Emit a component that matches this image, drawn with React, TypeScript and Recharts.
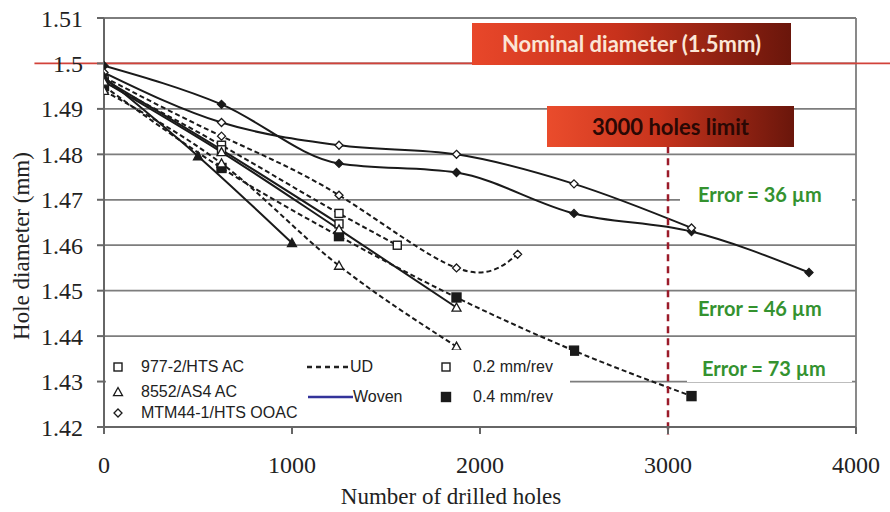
import React from "react";
import { LineChart, Line, XAxis, YAxis, CartesianGrid, ReferenceLine } from "recharts";

// tick values
const xTicks = [0, 1000, 2000, 3000, 4000];
const yTicks = [1.42, 1.43, 1.44, 1.45, 1.46, 1.47, 1.48, 1.49, 1.5, 1.51];

// hole counts where diameters were measured
const holesLong = [0, 625, 1250, 1875, 2500, 3125, 3750];
const holesWide = [0, 625, 1250, 1875, 2500, 3125];
const holesShortUD = [0, 625, 1250, 1875, 2200];
const holesSq = [0, 625, 1250, 1560];
const holesMid = [0, 625, 1250];
const holesTri = [0, 500, 1000];
const holesStd = [0, 625, 1250, 1875];

// hole diameters (mm)
const mtmWoven04 = [1.4995, 1.491, 1.478, 1.476, 1.467, 1.463, 1.454];
const mtmWoven02 = [1.498, 1.487, 1.482, 1.48, 1.4735, 1.4638];
const mtmUD02 = [1.497, 1.484, 1.471, 1.455, 1.458];
const hts977UD02 = [1.496, 1.482, 1.467, 1.46];
const hts977Woven02 = [1.4965, 1.481, 1.4647];
const hts977UD04 = [1.495, 1.477, 1.462, 1.4485, 1.4368, 1.4268];
const as4Woven04 = [1.497, 1.4796, 1.4605];
const as4Woven02 = [1.496, 1.4805, 1.4635, 1.4463];
const as4UD02 = [1.494, 1.478, 1.4555, 1.4377];

const zip = (xs: number[], ys: number[]) => xs.map((x, i) => ({ x, y: ys[i] }));

type Shape = "square" | "triangle" | "diamond";

const series = [
  { id: "mtmW04", data: zip(holesLong, mtmWoven04), shape: "diamond" as Shape, filled: true, dashed: false, curve: "monotone" },
  { id: "mtmW02", data: zip(holesWide, mtmWoven02), shape: "diamond" as Shape, filled: false, dashed: false, curve: "monotone" },
  { id: "mtmUD02", data: zip(holesShortUD, mtmUD02), shape: "diamond" as Shape, filled: false, dashed: true, curve: "natural" },
  { id: "977UD02", data: zip(holesSq, hts977UD02), shape: "square" as Shape, filled: false, dashed: true, curve: "monotone" },
  { id: "977W02", data: zip(holesMid, hts977Woven02), shape: "square" as Shape, filled: false, dashed: false, curve: "monotone" },
  { id: "977UD04", data: zip(holesWide, hts977UD04), shape: "square" as Shape, filled: true, dashed: true, curve: "monotone" },
  { id: "as4W04", data: zip(holesTri, as4Woven04), shape: "triangle" as Shape, filled: true, dashed: false, curve: "monotone" },
  { id: "as4W02", data: zip(holesStd, as4Woven02), shape: "triangle" as Shape, filled: false, dashed: false, curve: "monotone" },
  { id: "as4UD02", data: zip(holesStd, as4UD02), shape: "triangle" as Shape, filled: false, dashed: true, curve: "monotone" },
];

const INK = "#1a1a1a";
const GRID = "#7d7d7d";

function marker(shape: Shape, filled: boolean, cx: number, cy: number, key: string) {
  const fill = filled ? INK : "#fff";
  if (shape === "square") {
    const s = filled ? 9 : 8;
    return <rect key={key} x={cx - s / 2} y={cy - s / 2} width={s} height={s} fill={fill} stroke={INK} strokeWidth={1.4} />;
  }
  if (shape === "triangle") {
    const r = 4.5;
    return (
      <polygon key={key} points={`${cx},${cy - r} ${cx + r},${cy + r * 0.8} ${cx - r},${cy + r * 0.8}`}
        fill={fill} stroke={INK} strokeWidth={1.3} />
    );
  }
  const r = 4;
  return (
    <polygon key={key} points={`${cx},${cy - r} ${cx + r},${cy} ${cx},${cy + r} ${cx - r},${cy}`}
      fill={fill} stroke={INK} strokeWidth={1.3} />
  );
}

const makeDot = (id: string, shape: Shape, filled: boolean) => (p: any) => {
  const key = `${id}-${p.index}`;
  if (p.cx == null || p.cy == null) return <g key={key} />;
  return marker(shape, filled, p.cx, p.cy, key);
};

const serif = "'Liberation Serif', 'Times New Roman', serif";
const sans = "'Liberation Sans', Arial, sans-serif";
const callout = "Lato, 'Open Sans', sans-serif";

const abs = (left: number, top: number, extra: React.CSSProperties = {}): React.CSSProperties => ({
  position: "absolute",
  left,
  top,
  ...extra,
});

function LegendIcon({ shape, filled, size = 10 }: { shape: Shape; filled?: boolean; size?: number }) {
  return (
    <svg width={14} height={14} style={{ display: "block" }}>
      {marker(shape, !!filled, 7, 7, "i")}
    </svg>
  );
}

export default function App() {
  const errorStyle: React.CSSProperties = {
    fontFamily: callout,
    fontWeight: 700,
    fontSize: 20,
    color: "#34922f",
    background: "#fff",
    lineHeight: "28px",
    paddingLeft: 18,
    width: 154,
  };
  const legendText: React.CSSProperties = { fontFamily: sans, fontSize: 16, color: "#222", lineHeight: "18px" };

  return (
    <div style={{ position: "absolute", left: 0, top: 0, width: 890, height: 512, background: "#fff" }}>
      <LineChart width={890} height={512} margin={{ top: 18, right: 34, bottom: 35, left: 44 }}>
        <CartesianGrid vertical={false} stroke={GRID} strokeWidth={1.8} />
        <XAxis
          type="number"
          dataKey="x"
          domain={[0, 4000]}
          ticks={xTicks}
          height={50}
          tickSize={7}
          tickMargin={22}
          stroke="#666"
          strokeWidth={2}
          tick={{ fontFamily: serif, fontSize: 24, fill: "#222" }}
          allowDataOverflow
        />
        <YAxis
          type="number"
          domain={[1.42, 1.51]}
          ticks={yTicks}
          width={60}
          tickSize={7}
          tickMargin={14}
          stroke="#666"
          strokeWidth={2}
          tickFormatter={(v: number) => String(Number(v.toFixed(2)))}
          tick={{ fontFamily: serif, fontSize: 24, fill: "#222" }}
          allowDataOverflow
        />
        <ReferenceLine x={4000} stroke={GRID} strokeWidth={1.8} />
        {series.map((s) => (
          <Line
            key={s.id}
            data={s.data}
            dataKey="y"
            type={s.curve as any}
            stroke={INK}
            strokeWidth={2}
            strokeDasharray={s.dashed ? "5 3" : undefined}
            dot={makeDot(s.id, s.shape, s.filled)}
            activeDot={false}
            isAnimationActive={false}
          />
        ))}
        <ReferenceLine
          segment={[{ x: -370, y: 1.5 }, { x: 4195, y: 1.5 }]}
          ifOverflow="visible"
          stroke="#d2423a"
          strokeWidth={1.8}
        />
        <ReferenceLine
          segment={[{ x: 3000, y: 1.4818 }, { x: 3000, y: 1.4183 }]}
          ifOverflow="visible"
          stroke="#9b1b2a"
          strokeWidth={2.5}
          strokeDasharray="7 5"
        />
      </LineChart>

      {/* axis titles */}
      <div style={abs(451, 497, { transform: "translate(-50%,-50%)", fontFamily: serif, fontSize: 23, color: "#222", whiteSpace: "nowrap" })}>
        Number of drilled holes
      </div>
      <div style={abs(22, 246, { transform: "translate(-50%,-50%) rotate(-90deg)", fontFamily: serif, fontSize: 23, color: "#222", whiteSpace: "nowrap" })}>
        Hole diameter (mm)
      </div>

      {/* callout boxes */}
      <div style={abs(472, 23, {
        width: 319, height: 42, background: "linear-gradient(90deg, #e8472a 0%, #c8321c 45%, #6a160b 100%)",
        color: "#fbe6d6", fontFamily: callout, fontWeight: 700, fontSize: 22, lineHeight: "42px", textAlign: "center",
      })}>
        Nominal diameter (1.5mm)
      </div>
      <div style={abs(547, 106, {
        width: 247, height: 41, background: "linear-gradient(90deg, #ea4c2c 0%, #c8341d 45%, #6a160b 100%)",
        color: "#2a0804", fontFamily: callout, fontWeight: 700, fontSize: 22, lineHeight: "41px", textAlign: "center",
      })}>
        3000 holes limit
      </div>

      <div style={abs(680, 180, errorStyle)}>Error = 36 µm</div>
      <div style={abs(680, 294, errorStyle)}>Error = 46 µm</div>
      <div style={abs(687, 354, { ...errorStyle, width: 150, paddingLeft: 15 })}>Error = 73 µm</div>

      {/* legend */}
      <div style={abs(106, 350, { width: 464, height: 74, background: "#fff" })} />
      <div style={abs(111, 360)}><LegendIcon shape="square" /></div>
      <div style={abs(111, 385)}><LegendIcon shape="triangle" /></div>
      <div style={abs(111, 406)}><LegendIcon shape="diamond" /></div>
      <div style={abs(141, 358, legendText)}>977-2/HTS AC</div>
      <div style={abs(141, 383, legendText)}>8552/AS4 AC</div>
      <div style={abs(141, 404, legendText)}>MTM44-1/HTS OOAC</div>

      <svg style={abs(305, 360)} width={46} height={14}>
        <line x1={2} y1={7} x2={45} y2={7} stroke="#222" strokeWidth={2.5} strokeDasharray="5 4" />
      </svg>
      <div style={abs(350, 358, legendText)}>UD</div>
      <svg style={abs(305, 390)} width={48} height={14}>
        <line x1={3} y1={7} x2={48} y2={7} stroke="#33339a" strokeWidth={2.5} />
      </svg>
      <div style={abs(353, 388, legendText)}>Woven</div>

      <div style={abs(439, 360)}><LegendIcon shape="square" /></div>
      <div style={abs(439, 390)}><LegendIcon shape="square" filled /></div>
      <div style={abs(473, 358, legendText)}>0.2 mm/rev</div>
      <div style={abs(473, 388, legendText)}>0.4 mm/rev</div>
    </div>
  );
}
